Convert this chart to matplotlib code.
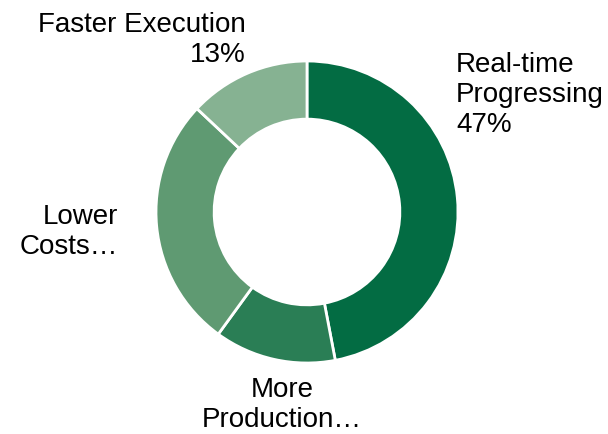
import matplotlib.pyplot as plt

labels = ['Real-time\nProgressing\n47%', 'More\nProduction…', 'Lower\nCosts…', 'Faster Execution\n13%']
sizes = [47, 13, 27, 13]
colors = ['#036c43', '#2a7e55', '#5f9a72', '#86b292']

W, H = 608, 434
fig = plt.figure(figsize=(W / 100, H / 100), dpi=100)
plt.rcParams['font.family'] = ['Liberation Sans', 'DejaVu Sans']

cx, cy, r = 307, 212, 151
ax = fig.add_axes([(cx - r) / W, (H - cy - r) / H, 2 * r / W, 2 * r / H])
ax.pie(sizes, colors=colors, startangle=90, counterclock=False,
       wedgeprops=dict(width=0.385, edgecolor='white', linewidth=2))
ax.set_xlim(-1, 1)
ax.set_ylim(-1, 1)
ax.set_aspect('equal')
ax.axis('off')

# label placement (pixel positions from the top-left)
pos = [(456, 62, 'left'), (282, 387, 'center'), (118, 214, 'right'), (246, 22, 'right')]
for lab, (x, y, ha) in zip(labels, pos):
    fig.text(x / W, 1 - (y - 10) / H, lab, ha=ha, va='top', fontsize=20,
             color='black', linespacing=1.2, multialignment=ha)

fig.savefig('out.png', dpi=100)
